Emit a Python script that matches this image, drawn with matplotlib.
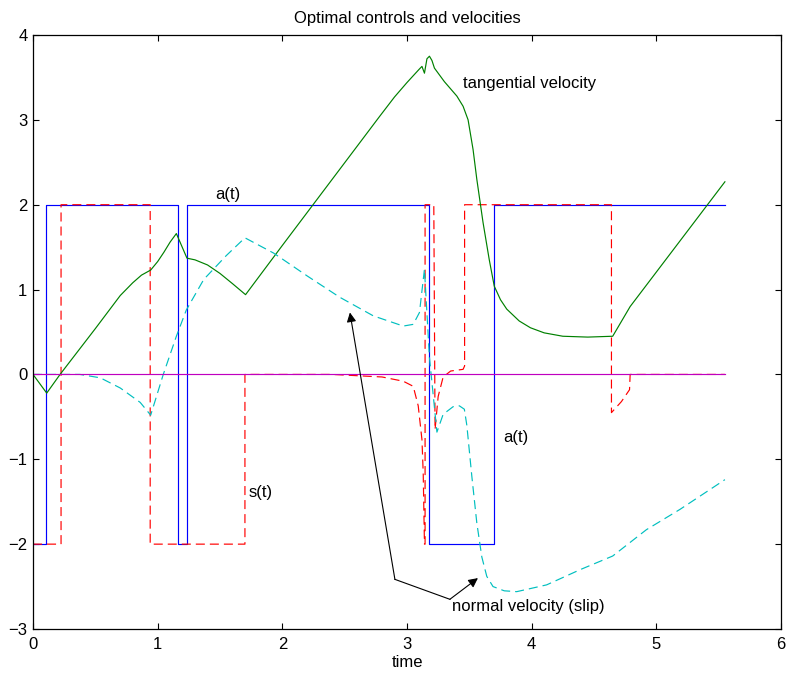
import matplotlib
matplotlib.use('Agg')
import matplotlib.pyplot as plt

plt.rcParams['font.family'] = ['Liberation Sans', 'DejaVu Sans']
plt.rcParams['lines.scale_dashes'] = False

# control a(t): bang-bang between -2 and 2
a_t = [0, 0.108, 0.108, 1.163, 1.163, 1.235, 1.235, 3.176, 3.176, 3.697, 3.697, 5.55]
a_v = [-2, -2, 2, 2, -2, -2, 2, 2, -2, -2, 2, 2]

# control s(t)
s_t = [0, 0.225, 0.225, 0.94, 0.94, 1.70, 1.70, 2.4, 2.8, 2.97, 3.05, 3.09, 3.12,
       3.13, 3.14, 3.145, 3.145, 3.215, 3.225, 3.25, 3.29, 3.35, 3.45, 3.462,
       3.462, 4.64, 4.64, 4.72, 4.785, 4.79, 5.55]
s_v = [-2, -2, 2, 2, -2, -2, 0, 0, -0.03, -0.08, -0.14, -0.37, -0.77,
       -1.16, -2, -2, 2, 2, -0.65, -0.26, -0.03, 0.04, 0.06, 0.1,
       2, 2, -0.45, -0.32, -0.18, 0, 0]

# tangential velocity
tv_t = [0, 0.11, 0.217, 0.5, 0.7, 0.8, 0.87, 0.944, 1.0, 1.05, 1.1, 1.15, 1.235,
        1.3, 1.4, 1.5, 1.6, 1.705, 2.0, 2.78, 2.9, 3.0, 3.1, 3.12, 3.14, 3.16,
        3.18, 3.2, 3.22, 3.3, 3.4, 3.45, 3.49, 3.53, 3.56, 3.61, 3.66, 3.70,
        3.75, 3.80, 3.9, 3.99, 4.1, 4.25, 4.45, 4.65, 4.79, 5.55]
tv_v = [0, -0.22, 0, 0.54, 0.93, 1.08, 1.17, 1.23, 1.33, 1.44, 1.56, 1.66, 1.37,
        1.35, 1.29, 1.19, 1.07, 0.94, 1.52, 3.04, 3.27, 3.44, 3.6, 3.63, 3.55, 3.72,
        3.75, 3.7, 3.61, 3.45, 3.28, 3.16, 3.0, 2.65, 2.3, 1.79, 1.35, 1.04,
        0.88, 0.77, 0.63, 0.55, 0.49, 0.45, 0.44, 0.45, 0.8, 2.27]

# normal velocity (slip)
nv_t = [0, 0.377, 0.54, 0.70, 0.86, 0.944, 1.045, 1.15, 1.23, 1.37, 1.55, 1.70,
        1.93, 2.2, 2.46, 2.73, 2.97, 3.05, 3.10, 3.14, 3.18, 3.24, 3.29, 3.37,
        3.42, 3.46, 3.48, 3.52, 3.56, 3.60, 3.64, 3.69, 3.78, 3.88, 4.12, 4.39,
        4.65, 4.92, 5.19, 5.55]
nv_v = [0, 0, -0.04, -0.16, -0.33, -0.48, 0, 0.45, 0.76, 1.12, 1.4, 1.61,
        1.43, 1.16, 0.91, 0.69, 0.57, 0.59, 0.73, 1.24, 0.2, -0.68, -0.47, -0.38,
        -0.37, -0.41, -0.6, -1.2, -1.75, -2.15, -2.38, -2.5, -2.55, -2.56, -2.48, -2.3,
        -2.14, -1.83, -1.59, -1.24]

zero_t = [0, 5.55]
zero_v = [0, 0]

fig = plt.figure(figsize=(7.91, 6.76), dpi=100)
ax = fig.add_axes([33 / 791, 47 / 676, 748 / 791, 594 / 676])

ax.plot(a_t, a_v, color='b', lw=0.85)
ax.plot(s_t, s_v, color='r', lw=0.85, ls='--', dashes=(6.5, 3.6))
ax.plot(tv_t, tv_v, color='#008000', lw=0.85)
ax.plot(nv_t, nv_v, color='#00bfbf', lw=0.85, ls='--', dashes=(6.5, 3.6))
ax.plot(zero_t, zero_v, color='m', lw=0.85)

ax.set_xlim(0, 6)
ax.set_ylim(-3, 4)
ax.set_xticks(range(0, 7))
ax.set_yticks(range(-3, 5))
ax.tick_params(direction='in', length=4.5, top=True, right=True, labelsize=12)
ax.tick_params(axis='x', pad=6)
ax.tick_params(axis='y', pad=4)
for sp in ax.spines.values():
    sp.set_linewidth(0.9)

ax.set_title('Optimal controls and velocities', fontsize=12, pad=9)
ax.set_xlabel('time', fontsize=12, labelpad=2)

ax.text(1.56, 2.12, 'a(t)', fontsize=12, ha='center', va='center')
ax.text(3.77, -0.74, 'a(t)', fontsize=12, ha='left', va='center')
ax.text(1.73, -1.39, 's(t)', fontsize=12, ha='left', va='center')
ax.text(3.45, 3.43, 'tangential velocity', fontsize=12, ha='left', va='center')
ax.text(3.36, -2.73, 'normal velocity (slip)', fontsize=12, ha='left', va='center')

# pointer lines for the slip label
ax.plot([2.903, 3.344], [-2.415, -2.65], color='k', lw=0.8)
ax.annotate('', xy=(2.542, 0.73), xytext=(2.903, -2.415),
            arrowprops=dict(arrowstyle='-|>', color='k', lw=0.8,
                            mutation_scale=14, shrinkA=0, shrinkB=0))
ax.annotate('', xy=(3.569, -2.40), xytext=(3.344, -2.65),
            arrowprops=dict(arrowstyle='-|>', color='k', lw=0.8,
                            mutation_scale=14, shrinkA=0, shrinkB=0))

fig.savefig('out.png', dpi=100)
